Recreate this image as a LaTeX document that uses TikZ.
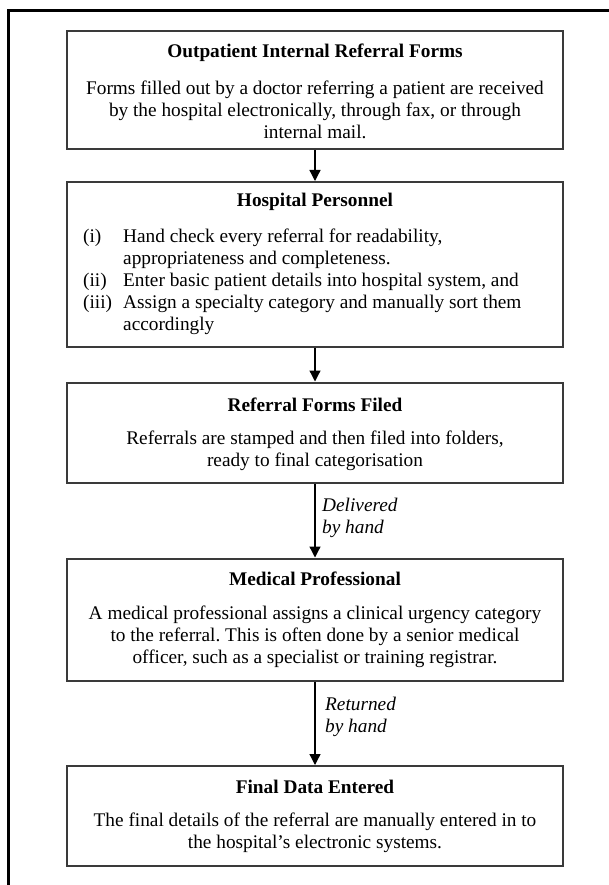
\documentclass[tikz,border=0pt]{standalone}
\usepackage{fontspec}
\setmainfont{Liberation Serif}
\usetikzlibrary{arrows.meta}
\definecolor{boxgray}{HTML}{3A3A3A}
\newcommand{\fsz}{\fontsize{19.3}{22}\selectfont\frenchspacing}
\tikzset{
  box/.style={draw=boxgray, line width=2pt, minimum width=496pt, inner sep=0pt},
  ttl/.style={font=\fsz\bfseries, inner sep=0pt},
  body/.style={font=\fsz, align=center, inner sep=0pt},
  lst/.style={font=\fsz, align=left, inner sep=0pt, anchor=west},
  lbl/.style={font=\fsz\itshape, align=left, inner sep=0pt, anchor=west},
  flow/.style={draw=black, line width=1.3pt, -{Triangle[length=11pt,width=11pt]}},
  frame/.style={draw=black, line width=3pt},
}
\begin{document}
\begin{tikzpicture}[x=1pt,y=-1pt]
\useasboundingbox (0,0) rectangle (609,885);
\clip (0,0) rectangle (609,885);
\fill[white] (0,0) rectangle (609,885);
\draw[frame] (8,11) rectangle (660,940);

% boxes
\node[box, minimum height=118pt] (b1) at (315,90) {};
\node[box, minimum height=165pt] (b2) at (315,264.5) {};
\node[box, minimum height=100pt] (b3) at (315,432.5) {};
\node[box, minimum height=122pt] (b4) at (315,619.5) {};
\node[box, minimum height=100pt] (b5) at (315,816) {};

% box 1
\node[ttl] (t1) at (315,53) {Outpatient Internal Referral Forms};
\node[body] (x1) at (315,110) {Forms filled out by a doctor referring a patient are received\\
by the hospital electronically, through fax, or through\\
internal mail.};

% box 2
\node[ttl] (t2) at (315,202) {Hospital Personnel};
\node[lst] (x2) at (83,282) {\makebox[40pt][l]{(i)}Hand check every referral for readability,\\
\makebox[40pt][l]{}appropriateness and completeness.\\
\makebox[40pt][l]{(ii)}Enter basic patient details into hospital system, and\\
\makebox[40pt][l]{(iii)}Assign a specialty category and manually sort them\\
\makebox[40pt][l]{}accordingly};

% box 3
\node[ttl] (t3) at (315,405) {Referral Forms Filed};
\node[body] (x3) at (315,451) {Referrals are stamped and then filed into folders,\\
ready to final categorisation};

% box 4
\node[ttl] (t4) at (315,579) {Medical Professional};
\node[body] (x4) at (315,637) {A medical professional assigns a clinical urgency category\\
to the referral. This is often done by a senior medical\\
officer, such as a specialist or training registrar.};

% box 5
\node[ttl] (t5) at (315,787) {Final Data Entered};
\node[body] (x5) at (315,833) {The final details of the referral are manually entered in to\\
the hospital’s electronic systems.};

% connectors
\draw[flow] (b1) -- (b2);
\draw[flow] (b2) -- (b3);
\draw[flow] (b3) -- (b4);
\draw[flow] (b4) -- (b5);

% labels
\node[lbl] (l1) at (322,518) {Delivered\\by hand};
\node[lbl] (l2) at (325,717) {Returned\\by hand};
\end{tikzpicture}
\end{document}
